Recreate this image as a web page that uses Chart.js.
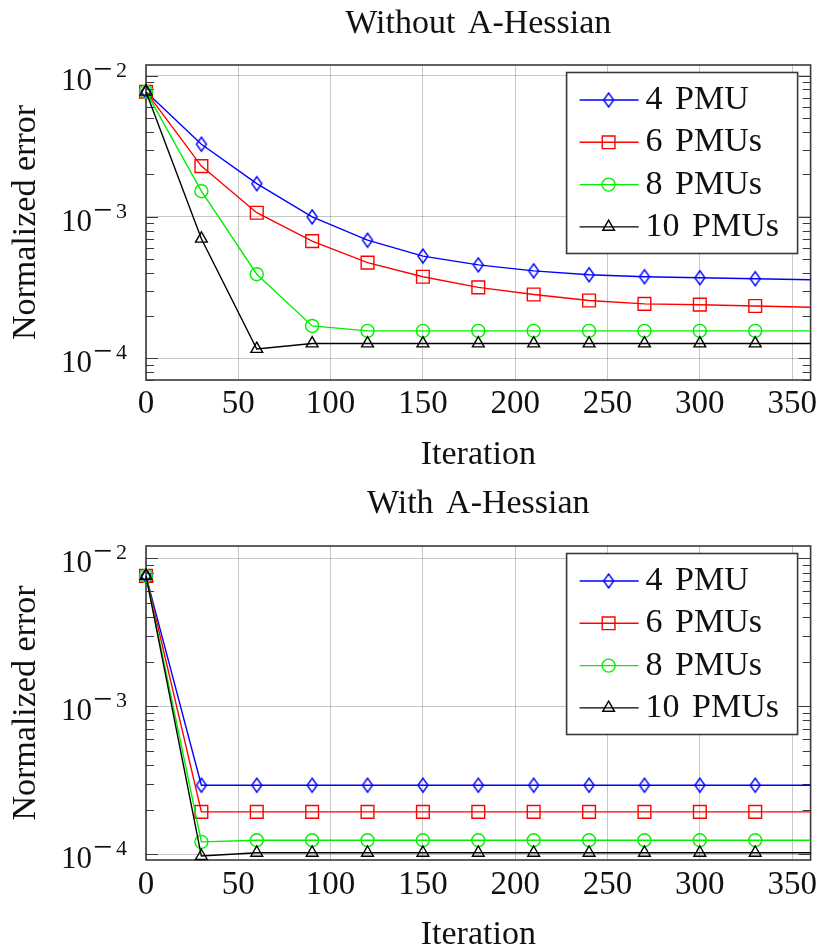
<!DOCTYPE html>
<html>
<head>
<meta charset="utf-8">
<title>Normalized error vs iteration</title>
<script src="https://cdn.jsdelivr.net/npm/chart.js@4.4.1/dist/chart.umd.min.js"></script>
<style>
  html, body { margin: 0; padding: 0; background: #fff; }
  .panel { width: 821px; height: 476px; }
  canvas { display: block; }
</style>
</head>
<body>
<div class="panel"><canvas id="noHessChart" width="821" height="476"></canvas></div>
<div class="panel"><canvas id="hessChart" width="821" height="476"></canvas></div>
<script>
// ---- data ----
const iterations = [0, 30, 60, 90, 120, 150, 180, 210, 240, 270, 300, 330, 360];
const seriesLabels = ["4 PMU", "6 PMUs", "8 PMUs", "10 PMUs"];
const xTickStep = 50;
const yDecades = [1e-4, 1e-3, 1e-2];

// without A-Hessian
const pmu4NoHess  = [7.7e-3, 3.27e-3, 1.72e-3, 1.0e-3, 6.84e-4, 5.28e-4, 4.57e-4, 4.15e-4, 3.89e-4, 3.77e-4, 3.71e-4, 3.65e-4, 3.59e-4];
const pmu6NoHess  = [7.7e-3, 2.29e-3, 1.07e-3, 6.73e-4, 4.74e-4, 3.77e-4, 3.17e-4, 2.82e-4, 2.56e-4, 2.42e-4, 2.39e-4, 2.34e-4, 2.29e-4];
const pmu8NoHess  = [7.7e-3, 1.52e-3, 3.93e-4, 1.69e-4, 1.56e-4, 1.56e-4, 1.56e-4, 1.56e-4, 1.56e-4, 1.56e-4, 1.56e-4, 1.56e-4, 1.56e-4];
const pmu10NoHess = [7.7e-3, 7.0e-4, 1.16e-4, 1.27e-4, 1.27e-4, 1.27e-4, 1.27e-4, 1.27e-4, 1.27e-4, 1.27e-4, 1.27e-4, 1.27e-4, 1.27e-4];

// with A-Hessian
const pmu4Hess  = [7.6e-3, 2.92e-4, 2.92e-4, 2.92e-4, 2.92e-4, 2.92e-4, 2.92e-4, 2.92e-4, 2.92e-4, 2.92e-4, 2.92e-4, 2.92e-4, 2.92e-4];
const pmu6Hess  = [7.6e-3, 1.93e-4, 1.93e-4, 1.93e-4, 1.93e-4, 1.93e-4, 1.93e-4, 1.93e-4, 1.93e-4, 1.93e-4, 1.93e-4, 1.93e-4, 1.93e-4];
const pmu8Hess  = [7.6e-3, 1.21e-4, 1.24e-4, 1.24e-4, 1.24e-4, 1.24e-4, 1.24e-4, 1.24e-4, 1.24e-4, 1.24e-4, 1.24e-4, 1.24e-4, 1.24e-4];
const pmu10Hess = [7.6e-3, 9.7e-5, 1.02e-4, 1.02e-4, 1.02e-4, 1.02e-4, 1.02e-4, 1.02e-4, 1.02e-4, 1.02e-4, 1.02e-4, 1.02e-4, 1.02e-4];

// ---- styles ----
const FONT = "'Liberation Serif', 'Times New Roman', serif";
const TEXT = "#111";
const GRID = "rgba(0, 0, 0, 0.22)";
const FRAME = "#3a3a3a";

// thin diamond marker (pgfplots style)
function makeDiamond(color) {
    const c = document.createElement("canvas");
    c.width = 14;
    c.height = 18;
    const g = c.getContext("2d");
    g.strokeStyle = color;
    g.lineWidth = 1.4;
    g.beginPath();
    g.moveTo(7, 2);
    g.lineTo(12, 9);
    g.lineTo(7, 16);
    g.lineTo(2, 9);
    g.closePath();
    g.stroke();
    return c;
}

const markers = [
    { color: "#0000ff", style: makeDiamond("#0000ff"), radius: 6 },
    { color: "#ff0000", style: "rect", radius: 9 },
    { color: "#00f000", style: "circle", radius: 6.5 },
    { color: "#000000", style: "triangle", radius: 6.8 },
];

function makeDatasets(seriesValues) {
    // black drawn last so it sits on top, as in pgfplots
    return seriesValues.map((values, i) => ({
        label: seriesLabels[i],
        data: iterations.map((it, k) => ({ x: it, y: values[k] })),
        borderColor: markers[i].color,
        borderWidth: 1.4,
        tension: 0,
        pointStyle: markers[i].style,
        pointRadius: (ctx) => (ctx.dataIndex < iterations.length - 1 ? markers[i].radius : 0),
        pointBorderColor: markers[i].color,
        pointBackgroundColor: "rgba(0,0,0,0)",
        pointBorderWidth: 1.4,
        order: seriesValues.length - i,
        clip: false,
    }));
}

// frame, log minor ticks, y labels, panel title and boxed legend
const panelDecor = {
    id: "panelDecor",
    beforeDatasetsDraw(chart) {
        const { ctx, chartArea: a, scales } = chart;
        const y = scales.y;
        ctx.save();
        ctx.strokeStyle = FRAME;
        ctx.lineWidth = 1;
        const lo = Math.floor(Math.log10(y.min));
        const hi = Math.floor(Math.log10(y.max));
        for (let e = lo; e <= hi; e++) {
            for (let m = 1; m <= 9; m++) {
                const v = m * Math.pow(10, e);
                if (v < y.min || v > y.max) continue;
                const py = Math.round(y.getPixelForValue(v)) + 0.5;
                const len = m === 1 ? 12 : 8;
                ctx.beginPath();
                ctx.moveTo(a.left, py);
                ctx.lineTo(a.left + len, py);
                ctx.moveTo(a.right, py);
                ctx.lineTo(a.right - len, py);
                ctx.stroke();
            }
        }
        ctx.lineWidth = 1.6;
        ctx.strokeRect(a.left, a.top, a.right - a.left, a.bottom - a.top);
        ctx.restore();
    },
    afterDraw(chart, args, opts) {
        const { ctx, chartArea: a, scales } = chart;
        const y = scales.y;
        ctx.save();
        ctx.fillStyle = TEXT;
        ctx.wordSpacing = "4px";

        // panel title
        ctx.font = `34px ${FONT}`;
        ctx.textAlign = "center";
        ctx.textBaseline = "alphabetic";
        ctx.fillText(opts.title, (a.left + a.right) / 2, opts.titleBaseline);

        // y tick labels 10^k
        yDecades.forEach((v) => {
            const py = y.getPixelForValue(v);
            const exp = Math.round(Math.log10(v));
            ctx.font = `31px ${FONT}`;
            ctx.textAlign = "right";
            ctx.fillText("10", a.left - 54, py + 14);
            ctx.textAlign = "left";
            ctx.font = `34px ${FONT}`;
            ctx.fillText("\u2212", a.left - 53, py + 4);
            ctx.font = `22px ${FONT}`;
            ctx.fillText(String(Math.abs(exp)), a.left - 30, py + 1);
        });

        // legend box
        const bw = 231, bh = 181;
        const bx = a.right - 13 - bw;
        const by = a.top + 7.5;
        ctx.fillStyle = "#fff";
        ctx.fillRect(bx, by, bw, bh);
        ctx.strokeStyle = FRAME;
        ctx.lineWidth = 1.6;
        ctx.strokeRect(bx, by, bw, bh);

        chart.data.datasets.forEach((ds, i) => {
            const ry = by + 27.5 + i * 42.3;
            ctx.strokeStyle = ds.borderColor;
            ctx.lineWidth = 1.4;
            ctx.beginPath();
            ctx.moveTo(bx + 13, ry);
            ctx.lineTo(bx + 72, ry);
            ctx.stroke();
            ctx.fillStyle = "rgba(0,0,0,0)";
            Chart.helpers.drawPoint(ctx, {
                pointStyle: ds.pointStyle,
                radius: markers[i].radius,
                rotation: 0,
                borderWidth: 1.4,
            }, bx + 42, ry);
            ctx.fillStyle = TEXT;
            ctx.font = `34px ${FONT}`;
            ctx.textAlign = "left";
            ctx.textBaseline = "middle";
            ctx.fillText(ds.label, bx + 79, ry);
            ctx.textBaseline = "alphabetic";
        });
        ctx.restore();
    },
};

function buildChart(canvasId, cfg) {
    const ctx = document.getElementById(canvasId).getContext("2d");
    return new Chart(ctx, {
        type: "line",
        data: { datasets: makeDatasets(cfg.series) },
        options: {
            responsive: false,
            animation: false,
            events: [],
            layout: { padding: { top: cfg.plotTop, right: 8, bottom: 0, left: 0 } },
            plugins: {
                legend: { display: false },
                tooltip: { enabled: false },
                panelDecor: { title: cfg.title, titleBaseline: cfg.titleBaseline },
            },
            scales: {
                x: {
                    type: "linear",
                    min: 0,
                    max: 360,
                    afterFit(scale) {
                        scale.height = cfg.xAxisHeight;
                        scale.paddingLeft = 0;
                        scale.paddingRight = 0;
                    },
                    ticks: {
                        stepSize: xTickStep,
                        includeBounds: false,
                        maxRotation: 0,
                        autoSkip: false,
                        padding: cfg.xTickPad,
                        color: TEXT,
                        font: { family: FONT, size: 33, lineHeight: 1 },
                    },
                    grid: { color: GRID, lineWidth: 1, drawTicks: false },
                    border: { display: false },
                    title: {
                        display: true,
                        text: "Iteration",
                        color: TEXT,
                        font: { family: FONT, size: 34, lineHeight: 1 },
                        padding: { top: 0, bottom: cfg.xTitlePad },
                    },
                },
                y: {
                    type: "logarithmic",
                    min: cfg.yMin,
                    max: cfg.yMax,
                    afterFit(scale) {
                        scale.width = 146;
                        scale.paddingTop = 0;
                        scale.paddingBottom = 0;
                    },
                    afterBuildTicks(scale) {
                        scale.ticks = yDecades.map((v) => ({ value: v, major: true }));
                    },
                    ticks: { display: false },
                    grid: { color: GRID, lineWidth: 1, drawTicks: false },
                    border: { display: false },
                    title: {
                        display: true,
                        text: "Normalized error",
                        color: TEXT,
                        font: { family: FONT, size: 34, lineHeight: 1 },
                        padding: { top: 9, bottom: 0 },
                    },
                },
            },
        },
        plugins: [panelDecor],
    });
}

buildChart("noHessChart", {
    title: "Without A-Hessian",
    titleBaseline: 33,
    series: [pmu4NoHess, pmu6NoHess, pmu8NoHess, pmu10NoHess],
    yMin: 7.45e-5,
    yMax: 1.19e-2,
    plotTop: 65,
    xAxisHeight: 96,
    xTickPad: 7.5,
    xTitlePad: 4,
});

buildChart("hessChart", {
    title: "With A-Hessian",
    titleBaseline: 37,
    series: [pmu4Hess, pmu6Hess, pmu8Hess, pmu10Hess],
    yMin: 9.12e-5,
    yMax: 1.21e-2,
    plotTop: 70,
    xAxisHeight: 92,
    xTickPad: 8.5,
    xTitlePad: 0,
});
</script>
</body>
</html>
